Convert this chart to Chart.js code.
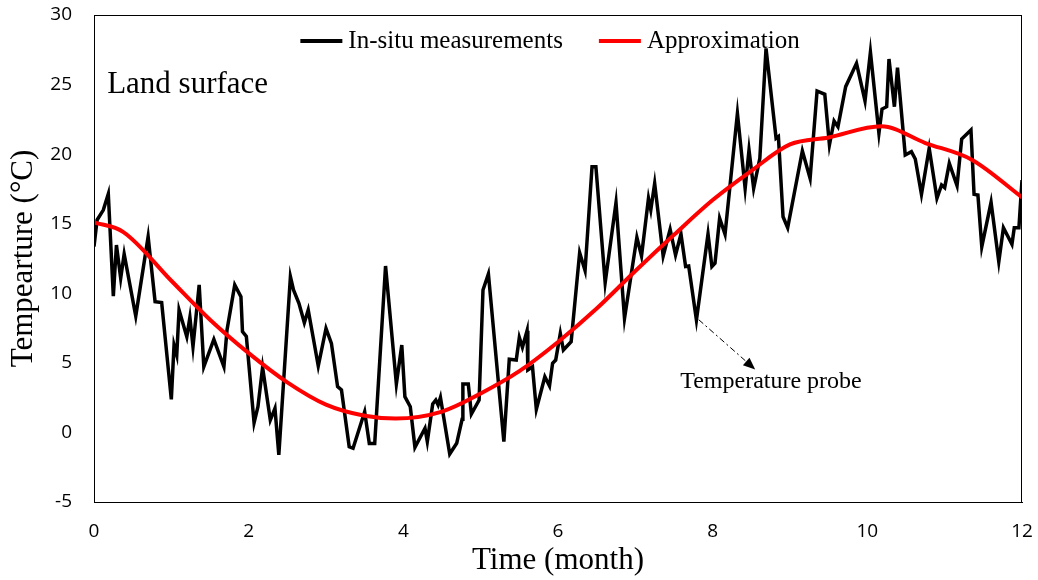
<!DOCTYPE html>
<html>
<head>
<meta charset="utf-8">
<script src="https://cdn.jsdelivr.net/npm/chart.js"></script>
<style>
  html, body { margin: 0; padding: 0; background: #fff; }
</style>
</head>
<body>
<canvas id="myChart" width="1038" height="580"></canvas>
<script>
// in-situ measurements (time in months, temperature in °C)
const measured_time = [
  0.00, 0.04, 0.12, 0.185, 0.25, 0.29, 0.345, 0.39, 0.54, 0.70, 0.79, 0.875,
  1.00, 1.035, 1.07, 1.10, 1.20, 1.24, 1.28, 1.36, 1.42, 1.55, 1.68, 1.72, 1.82, 1.90, 1.92, 1.97,
  2.07, 2.12, 2.18, 2.28, 2.34, 2.39, 2.54, 2.58, 2.65, 2.72, 2.77, 2.84, 2.90,
  3.00, 3.07, 3.15, 3.20, 3.30, 3.35, 3.50, 3.56, 3.63, 3.77, 3.91, 3.98,
  4.02, 4.09, 4.15, 4.28, 4.31, 4.38, 4.42, 4.45, 4.48, 4.60, 4.69, 4.76, 4.77, 4.84, 4.88, 4.98,
  5.03, 5.10, 5.30, 5.37, 5.46, 5.50, 5.54, 5.60, 5.61, 5.67, 5.72, 5.83, 5.89, 5.93, 5.97,
  6.03, 6.07, 6.17, 6.28, 6.35, 6.44, 6.49, 6.61, 6.75, 6.86,
  7.02, 7.08, 7.17, 7.20, 7.25, 7.36, 7.45, 7.52, 7.59, 7.65, 7.69, 7.79, 7.94, 7.99,
  8.03, 8.09, 8.16, 8.32, 8.42, 8.47, 8.53, 8.61, 8.69, 8.82, 8.85, 8.91, 8.97,
  9.16, 9.26, 9.35, 9.45, 9.51, 9.57, 9.62, 9.72, 9.86, 9.97,
  10.04, 10.15, 10.19, 10.25, 10.28, 10.35, 10.39, 10.49, 10.57, 10.62, 10.70, 10.80, 10.90, 10.96,
  11.00, 11.06, 11.16, 11.22, 11.34, 11.38, 11.43, 11.48, 11.60, 11.70, 11.76, 11.87, 11.90, 11.96, 12.00
];
const measured_temp = [
  13.35, 15.27, 15.98, 17.14, 9.8, 13.47, 11.08, 12.82, 8.36, 14.07, 9.4, 9.33,
  2.38, 6.28, 5.56, 8.8, 6.88, 8.27, 6.16, 10.6, 4.72, 6.69, 4.72, 7.36, 10.6, 9.75, 7.24, 6.9,
  0.7, 1.85, 4.68, 0.89, 1.73, -1.62, 11.19, 10.24, 9.28, 7.89, 8.8, 6.64, 4.77,
  7.48, 6.4, 3.29, 3.05, -1.03, -1.14, 1.49, -0.79, -0.79, 11.96, 3.48, 6.28,
  2.57, 1.85, -1.07, 0.3, -0.66, 2.04, 2.33, 1.97, 2.52, -1.55, -0.78, 0.94, 3.48, 3.48, 1.32, 2.33,
  10.24, 11.39, -0.66, 5.26, 5.2, 6.83, 6.12, 7.31, 4.49, 4.72, 1.66, 4.0, 3.34, 4.97, 5.2,
  7.12, 5.92, 6.52, 12.92, 11.63, 19.1, 19.1, 10.76, 16.51, 8.2,
  14.02, 12.68, 16.83, 15.99, 17.9, 12.68, 14.6, 12.75, 14.26, 11.92, 11.96, 8.08, 14.26, 11.92,
  12.16, 15.39, 14.24, 22.93, 17.54, 20.3, 17.54, 19.7, 27.6, 21.14, 21.26, 15.5, 14.71,
  20.23, 18.26, 24.54, 24.3, 20.66, 22.38, 21.97, 24.85, 26.53, 23.83,
  27.34, 21.5, 23.24, 23.41, 26.84, 23.41, 26.22, 19.94, 20.18, 19.65, 17.11, 20.42, 16.83, 17.78,
  17.59, 19.34, 17.73, 21.09, 21.74, 17.11, 17.06, 13.35, 16.54, 12.27, 14.71, 13.52, 14.71, 14.71, 18.14
];

// approximation curve
const approx_time = [0, 0.38, 1, 1.5, 2, 2.5, 3, 3.5, 3.9, 4.5, 5, 5.5, 6, 6.5, 7, 7.5, 8, 8.5, 9, 9.5, 10.18, 10.75, 11.35, 12];
const approx_temp = [15.1, 14.4, 10.9, 8.1, 5.7, 3.6, 2.0, 1.2, 1.0, 1.5, 2.8, 4.4, 6.5, 8.9, 11.6, 14.2, 16.7, 18.8, 20.7, 21.2, 22.0, 20.8, 19.6, 16.9];

const series_labels = ["In-situ measurements", "Approximation"];
const series_colors = ["#000000", "#ff0000"];

const x_min = 0, x_max = 12, x_step = 2;
const y_min = -5, y_max = 30, y_step = 5;

const text_notes = ["Land surface", "Temperature probe"];

const serif = "'Liberation Serif', 'Times New Roman', serif";
const sans = "'Open Sans', 'Noto Sans', sans-serif";

function toPoints(xs, ys) {
  return xs.map(function (x, i) { return { x: x, y: ys[i] }; });
}

const extrasPlugin = {
  id: "extras",
  afterDraw(chart) {
    const ctx = chart.ctx;
    const area = chart.chartArea;
    const xs = chart.scales.x;
    const ys = chart.scales.y;
    ctx.save();

    // frame
    ctx.strokeStyle = "#000";
    ctx.lineWidth = 1;
    ctx.strokeRect(area.left + 0.5, area.top + 0.5, area.right - area.left - 1, area.bottom - area.top);

    // legend
    ctx.font = "25px " + serif;
    ctx.textBaseline = "middle";
    ctx.fillStyle = "#000";
    const sample = 42, gap = 6, between = 36;
    const w0 = ctx.measureText(series_labels[0]).width;
    const w1 = ctx.measureText(series_labels[1]).width;
    const total = sample + gap + w0 + between + sample + gap + w1;
    let lx = (area.left + area.right) / 2 - 8 - total / 2;
    const ly = area.top + 26;
    [w0, w1].forEach(function (w, i) {
      ctx.strokeStyle = series_colors[i];
      ctx.lineWidth = 4;
      ctx.beginPath();
      ctx.moveTo(lx, ly);
      ctx.lineTo(lx + sample, ly);
      ctx.stroke();
      ctx.fillText(series_labels[i], lx + sample + gap, ly);
      lx += sample + gap + w + between;
    });

    // text notes
    ctx.font = "31px " + serif;
    ctx.textAlign = "left";
    ctx.fillText(text_notes[0], xs.getPixelForValue(0.17), ys.getPixelForValue(25));
    ctx.font = "24px " + serif;
    ctx.fillText(text_notes[1], xs.getPixelForValue(7.58), ys.getPixelForValue(3.62));

    // dash-dot arrow to the probe
    const ax0 = xs.getPixelForValue(7.82), ay0 = ys.getPixelForValue(8.1);
    const ax1 = xs.getPixelForValue(8.55), ay1 = ys.getPixelForValue(4.53);
    const ang = Math.atan2(ay1 - ay0, ax1 - ax0);
    ctx.strokeStyle = "#000";
    ctx.lineWidth = 1;
    ctx.setLineDash([6, 3, 2, 3]);
    ctx.beginPath();
    ctx.moveTo(ax0, ay0);
    ctx.lineTo(ax1 - 10 * Math.cos(ang), ay1 - 10 * Math.sin(ang));
    ctx.stroke();
    ctx.setLineDash([]);
    ctx.beginPath();
    ctx.moveTo(ax1, ay1);
    ctx.lineTo(ax1 - 12 * Math.cos(ang) + 5 * Math.sin(ang), ay1 - 12 * Math.sin(ang) - 5 * Math.cos(ang));
    ctx.lineTo(ax1 - 12 * Math.cos(ang) - 5 * Math.sin(ang), ay1 - 12 * Math.sin(ang) + 5 * Math.cos(ang));
    ctx.closePath();
    ctx.fill();

    ctx.restore();
  }
};

const chart_ctx = document.getElementById("myChart").getContext("2d");
const my_chart = new Chart(chart_ctx, {
  type: "line",
  data: {
    datasets: [
      {
        label: series_labels[0],
        data: toPoints(measured_time, measured_temp),
        borderColor: series_colors[0],
        borderWidth: 3.5,
        pointRadius: 0,
        tension: 0,
        order: 1
      },
      {
        label: series_labels[1],
        data: toPoints(approx_time, approx_temp),
        borderColor: series_colors[1],
        borderWidth: 4,
        pointRadius: 0,
        cubicInterpolationMode: "monotone",
        order: 0
      }
    ]
  },
  options: {
    responsive: false,
    animation: false,
    layout: { padding: { top: 15, right: 16, left: 0, bottom: 0 } },
    plugins: {
      legend: { display: false },
      tooltip: { enabled: false }
    },
    scales: {
      x: {
        type: "linear",
        min: x_min,
        max: x_max,
        afterFit: function (scale) {
          scale.height = 78;
          scale.paddingLeft = 0;
          scale.paddingRight = 0;
        },
        grid: { display: false, drawTicks: false },
        border: { color: "#000", width: 1 },
        ticks: {
          stepSize: x_step,
          padding: 18,
          color: "#000",
          font: { family: sans, size: 19 },
          maxRotation: 0
        },
        title: {
          display: true,
          text: "Time (month)",
          color: "#000",
          font: { family: serif, size: 31 },
          padding: { top: 0, bottom: 1 }
        }
      },
      y: {
        min: y_min,
        max: y_max,
        afterFit: function (scale) {
          scale.width = 94;
          scale.paddingTop = 0;
          scale.paddingBottom = 0;
        },
        grid: { display: false, drawTicks: false },
        border: { color: "#000", width: 1 },
        ticks: {
          stepSize: y_step,
          padding: 22,
          color: "#000",
          font: { family: sans, size: 19 }
        },
        title: {
          display: true,
          text: "Tempearture (°C)",
          color: "#000",
          font: { family: serif, size: 31 },
          padding: { top: 5, bottom: 0 }
        }
      }
    }
  },
  plugins: [extrasPlugin]
});
</script>
</body>
</html>
